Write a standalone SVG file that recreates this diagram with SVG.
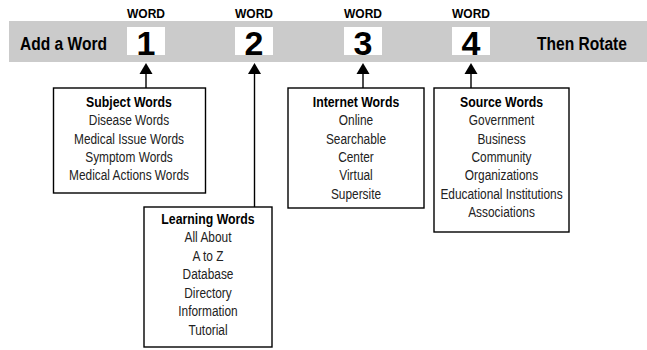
<svg xmlns="http://www.w3.org/2000/svg" width="647" height="350" viewBox="0 0 647 350">
<defs>
<style>
.bar{fill:#cbcbcb}
.num{fill:#ffffff}
.dig{font-family:"Liberation Sans",Arial,sans-serif;font-weight:bold;font-size:34px;text-anchor:middle;fill:#000}
.word{font-family:"Liberation Sans",Arial,sans-serif;font-weight:bold;font-size:12px;text-anchor:middle;fill:#000}
.big{font-family:"Liberation Sans",Arial,sans-serif;font-weight:bold;font-size:19px;fill:#000}
.box{fill:#fff;stroke:#000;stroke-width:1.4}
.t{font-family:"Liberation Sans",Arial,sans-serif;font-size:14.5px;text-anchor:middle;fill:#222}
.h{font-weight:bold;font-size:15px;fill:#000}
.ln{stroke:#000;stroke-width:1.4;fill:none}
.hd{fill:#000}
</style>
</defs>
<g id="header">
<rect class="bar" x="9" y="21" width="638" height="41"/>
<text class="big" transform="translate(20 0) scale(0.82 1)" x="0" y="50">Add a Word</text>
<text class="big" transform="translate(537 0) scale(0.82 1)" x="0" y="50">Then Rotate</text>
</g>
<g id="word1">
<text class="word" x="146" y="18">WORD</text>
<rect class="num" x="127" y="27" width="38" height="28"/>
<text class="dig" x="146" y="55">1</text>
</g>
<g id="word2">
<text class="word" x="254" y="18">WORD</text>
<rect class="num" x="235" y="27" width="38" height="28"/>
<text class="dig" x="254" y="55">2</text>
</g>
<g id="word3">
<text class="word" x="363" y="18">WORD</text>
<rect class="num" x="344" y="27" width="38" height="28"/>
<text class="dig" x="363" y="55">3</text>
</g>
<g id="word4">
<text class="word" x="471" y="18">WORD</text>
<rect class="num" x="452" y="27" width="38" height="28"/>
<text class="dig" x="471" y="55">4</text>
</g>
<g id="connectors">
<line class="ln" x1="146" y1="88" x2="146" y2="72"/>
<polygon class="hd" points="146,63 139.5,74 152.5,74"/>
<line class="ln" x1="254.5" y1="207" x2="254.5" y2="72"/>
<polygon class="hd" points="254.5,63 248,74 261,74"/>
<line class="ln" x1="363" y1="88" x2="363" y2="72"/>
<polygon class="hd" points="363,63 356.5,74 369.5,74"/>
<line class="ln" x1="471" y1="88" x2="471" y2="72"/>
<polygon class="hd" points="471,63 464.5,74 477.5,74"/>
</g>
<g id="subject">
<rect class="box" x="53.5" y="88" width="152" height="105"/>
<g transform="translate(129 0) scale(0.82 1)">
<text class="t h" x="0" y="107">Subject Words</text>
<text class="t" x="0" y="125.5">Disease Words</text>
<text class="t" x="0" y="143.8">Medical Issue Words</text>
<text class="t" x="0" y="162">Symptom Words</text>
<text class="t" x="0" y="180.3">Medical Actions Words</text>
</g>
</g>
<g id="learning">
<rect class="box" x="144" y="207" width="128" height="140"/>
<g transform="translate(208 0) scale(0.82 1)">
<text class="t h" x="0" y="224">Learning Words</text>
<text class="t" x="0" y="242.5">All About</text>
<text class="t" x="0" y="261">A to Z</text>
<text class="t" x="0" y="279.5">Database</text>
<text class="t" x="0" y="298">Directory</text>
<text class="t" x="0" y="316.5">Information</text>
<text class="t" x="0" y="335">Tutorial</text>
</g>
</g>
<g id="internet">
<rect class="box" x="288" y="88" width="136" height="120"/>
<g transform="translate(356 0) scale(0.82 1)">
<text class="t h" x="0" y="107">Internet Words</text>
<text class="t" x="0" y="125.5">Online</text>
<text class="t" x="0" y="143.8">Searchable</text>
<text class="t" x="0" y="162">Center</text>
<text class="t" x="0" y="180.3">Virtual</text>
<text class="t" x="0" y="198.6">Supersite</text>
</g>
</g>
<g id="source">
<rect class="box" x="434" y="88" width="135" height="144"/>
<g transform="translate(501.5 0) scale(0.82 1)">
<text class="t h" x="0" y="107">Source Words</text>
<text class="t" x="0" y="125.5">Government</text>
<text class="t" x="0" y="143.8">Business</text>
<text class="t" x="0" y="162">Community</text>
<text class="t" x="0" y="180.3">Organizations</text>
<text class="t" x="0" y="198.6">Educational Institutions</text>
<text class="t" x="0" y="217">Associations</text>
</g>
</g>
</svg>
